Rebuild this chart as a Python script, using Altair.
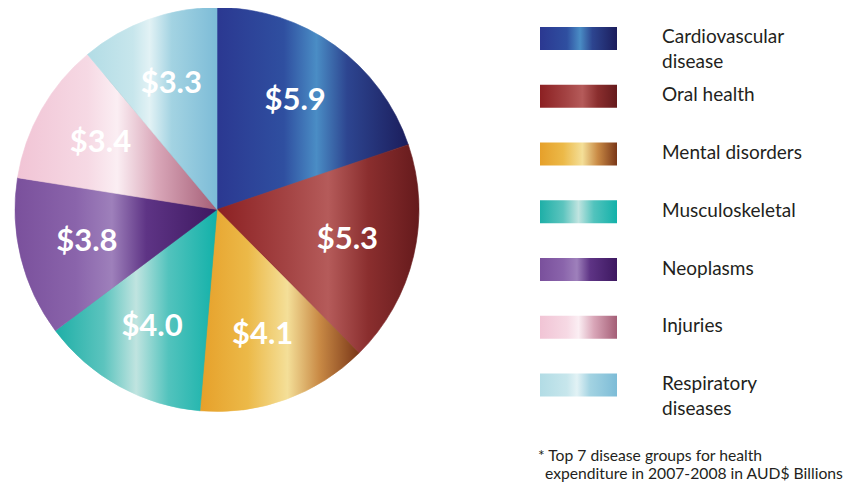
import math
import altair as alt
import pandas as pd

# ---- data ----
categories = ["Cardiovascular disease", "Oral health", "Mental disorders", "Musculoskeletal",
              "Neoplasms", "Injuries", "Respiratory diseases"]
values = [5.9, 5.3, 4.1, 4.0, 3.8, 3.4, 3.3]
value_labels = ["$5.9", "$5.3", "$4.1", "$4.0", "$3.8", "$3.4", "$3.3"]
legend_line1 = ["Cardiovascular", "Oral health", "Mental disorders", "Musculoskeletal",
                "Neoplasms", "Injuries", "Respiratory"]
legend_line2 = ["disease", "", "", "", "", "", "diseases"]
footnote = ["* Top 7 disease groups for health", "expenditure in 2007-2008 in AUD$ Billions"]

# ---- styles ----
gradient_stops = {
    "Cardiovascular disease": [(0, "#2b3891"), (0.35, "#2f4fa0"), (0.52, "#4a8dc5"), (0.68, "#2d4590"), (1, "#1b1d5c")],
    "Oral health": [(0, "#8c2022"), (0.35, "#a44444"), (0.55, "#b55b5a"), (0.75, "#8a2e2e"), (1, "#651a1c")],
    "Mental disorders": [(0, "#e6a02a"), (0.3, "#ecb948"), (0.55, "#f4df98"), (0.75, "#c98a45"), (1, "#7a3718")],
    "Musculoskeletal": [(0, "#1eafa7"), (0.3, "#5cc4be"), (0.5, "#c0e4e0"), (0.7, "#52c3bd"), (1, "#12b1a9")],
    "Neoplasms": [(0, "#7a509c"), (0.3, "#8a64ab"), (0.48, "#9e80bb"), (0.65, "#5e3485"), (1, "#3d1860")],
    "Injuries": [(0, "#f1c4d5"), (0.35, "#f6d9e4"), (0.5, "#fbeef3"), (0.7, "#d9a6b8"), (1, "#a45e76")],
    "Respiratory diseases": [(0, "#b2dce5"), (0.35, "#c7e6ec"), (0.48, "#e2f2f5"), (0.65, "#a3d3e2"), (1, "#7dbcd7")],
}


def grad(cat):
    return alt.Gradient(gradient="linear", x1=0, y1=0, x2=1, y2=0,
                        stops=[alt.GradientStop(offset=o, color=c) for o, c in gradient_stops[cat]])


df = pd.DataFrame({"category": categories, "value": values, "label": value_labels,
                   "line1": legend_line1, "line2": legend_line2})
total = sum(values)

CX, CY, R = 209, 201.5, 202
FONT = "Lato"
TEXT_COLOR = "#231f20"

theta_scale = alt.Scale(domain=[0, total], range=[0, 2 * math.pi])
y_scale = alt.Scale(domain=categories, range=[19, 388.5], paddingInner=0.602, paddingOuter=0)


def base():
    return (alt.Chart(df)
            .transform_window(cum="sum(value)", sort=[alt.SortField("value", order="descending")])
            .transform_calculate(start="datum.cum - datum.value", mid="datum.cum - datum.value / 2"))


layers = []

# soft drop shadow of the pie: stacked translucent discs
shadow_df = pd.DataFrame({"s": [0]})
for extra in [0, 2, 4, 6, 8, 10, 12]:
    r = R - 3 + extra
    layers.append(
        alt.Chart(shadow_df).mark_circle(size=math.pi * r ** 2, color="#262626", opacity=0.13,
                                         strokeWidth=0)
        .encode(x=alt.value(CX + 3), y=alt.value(CY + 9))
    )

# pie slices
for cat in categories:
    layers.append(
        base().transform_filter(alt.datum.category == cat)
        .mark_arc(radius=R, fill=grad(cat), stroke=grad(cat), strokeWidth=0.6)
        .encode(theta=alt.Theta("start:Q", scale=theta_scale, stack=False),
                theta2="cum:Q",
                x=alt.value(CX), y=alt.value(CY))
    )

# value labels
layers.append(
    base().mark_text(radius=134, font=FONT, fontSize=31, fontWeight="bold", color="white")
    .encode(theta=alt.Theta("mid:Q", scale=theta_scale, stack=False), text="label:N",
            x=alt.value(CX), y=alt.value(CY))
)

# legend swatches
for cat in categories:
    layers.append(
        alt.Chart(df).transform_filter(alt.datum.category == cat)
        .mark_rect(fill=grad(cat))
        .encode(y=alt.Y("category:N", scale=y_scale, axis=None),
                x=alt.value(532), x2=alt.value(609))
    )

# legend labels
layers.append(
    alt.Chart(df).mark_text(align="left", baseline="middle", font=FONT, fontSize=19, color=TEXT_COLOR, dy=-1)
    .encode(y=alt.Y("category:N", scale=y_scale, axis=None), x=alt.value(654), text="line1:N")
)
layers.append(
    alt.Chart(df).mark_text(align="left", baseline="middle", font=FONT, fontSize=19, color=TEXT_COLOR, dy=24)
    .encode(y=alt.Y("category:N", scale=y_scale, axis=None), x=alt.value(654), text="line2:N")
)

# footnote
foot_df = pd.DataFrame({"line": footnote})
layers.append(
    alt.Chart(foot_df).transform_filter(alt.datum.line == footnote[0])
    .mark_text(align="left", baseline="alphabetic", font=FONT, fontSize=15.7, color=TEXT_COLOR)
    .encode(x=alt.value(530), y=alt.value(453), text="line:N")
)
layers.append(
    alt.Chart(foot_df).transform_filter(alt.datum.line == footnote[1])
    .mark_text(align="left", baseline="alphabetic", font=FONT, fontSize=15.7, color=TEXT_COLOR)
    .encode(x=alt.value(537), y=alt.value(471), text="line:N")
)

chart = (alt.layer(*layers)
         .properties(width=842, height=475, padding=0, background="white",
                     autosize=alt.AutoSizeParams(type="none"))
         .configure_view(stroke=None))

chart.save("out.html", embed_options={"renderer": "svg", "actions": False})
